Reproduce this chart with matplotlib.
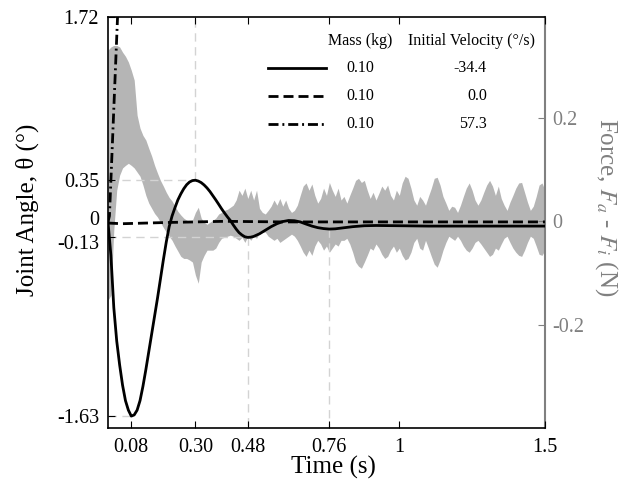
import numpy as np
import matplotlib
matplotlib.use("Agg")
import matplotlib.pyplot as plt
from matplotlib.lines import Line2D
from matplotlib.transforms import ScaledTranslation

plt.rcParams['font.family'] = ['Liberation Serif', 'DejaVu Serif']
plt.rcParams['mathtext.fontset'] = 'stix'

# joint angle traces (deg)
t_neg = [0.0, 0.01, 0.02, 0.03, 0.04, 0.05, 0.06, 0.07, 0.08, 0.09,
         0.10, 0.11, 0.12, 0.13, 0.14, 0.15, 0.16, 0.17, 0.18, 0.19,
         0.20, 0.21, 0.22, 0.23, 0.24, 0.25, 0.26, 0.27, 0.28, 0.29,
         0.30, 0.31, 0.32, 0.33, 0.34, 0.35, 0.36, 0.37, 0.38, 0.39,
         0.40, 0.41, 0.42, 0.43, 0.44, 0.45, 0.46, 0.47, 0.48, 0.49,
         0.50, 0.52, 0.54, 0.56, 0.58, 0.60, 0.62, 0.64, 0.66, 0.68,
         0.70, 0.72, 0.74, 0.76, 0.78, 0.80, 0.84, 0.88, 0.92, 1.0,
         1.1, 1.5]
theta_neg = [0.0, -0.28, -0.72, -1.0, -1.2, -1.37, -1.5, -1.58, -1.63, -1.62,
             -1.58, -1.50, -1.38, -1.24, -1.09, -0.94, -0.79, -0.64, -0.48, -0.32,
             -0.17, -0.04, 0.05, 0.12, 0.185, 0.235, 0.278, 0.312, 0.335, 0.347,
             0.35, 0.343, 0.33, 0.31, 0.285, 0.255, 0.22, 0.185, 0.148, 0.11,
             0.075, 0.042, 0.012, -0.025, -0.06, -0.09, -0.11, -0.125, -0.13, -0.128,
             -0.122, -0.10, -0.07, -0.04, -0.015, 0.003, 0.012, 0.01, 0.0, -0.018,
             -0.035, -0.048, -0.056, -0.06, -0.058, -0.052, -0.04, -0.032, -0.03, -0.032,
             -0.035, -0.035]

t_zero = [0.0, 0.05, 0.2, 0.4, 0.6, 1.0, 1.5]
theta_zero = [-0.01, -0.015, -0.005, 0.005, 0.0, 0.0, 0.0]

t_pos = [0.0, 0.005, 0.01, 0.02, 0.03, 0.035, 0.04]
theta_pos = [0.0, 0.05, 0.35, 0.95, 1.55, 1.85, 2.15]

mass = ['0.10', '0.10', '0.10']
velocity = ['-34.4', '0.0', '57.3']

# force difference envelope (N), sampled every 0.01 s
t_force = np.round(np.arange(0, 1.505, 0.01), 2)
force_hi = [0.331, 0.337, 0.340, 0.340, 0.337, 0.327, 0.319, 0.308, 0.292, 0.273,
            0.205, 0.180, 0.166, 0.157, 0.141, 0.126, 0.108, 0.093, 0.079, 0.068,
            0.056, 0.046, 0.039, 0.029, 0.019, 0.012, 0.006, 0.002, 0.000, 0.002,
            0.017, 0.027, 0.006, -0.002, -0.006, -0.002, 0.002, 0.006, 0.014, 0.017,
            0.021, 0.023, 0.027, 0.031, 0.041, 0.060, 0.050, 0.064, 0.044, 0.060,
            0.041, 0.060, 0.025, 0.017, 0.014, 0.021, 0.029, 0.041, 0.031, 0.044,
            0.029, 0.041, 0.025, 0.017, 0.021, 0.031, 0.050, 0.068, 0.074, 0.060,
            0.072, 0.050, 0.035, 0.044, 0.064, 0.050, 0.075, 0.060, 0.048, 0.064,
            0.041, 0.048, 0.035, 0.050, 0.064, 0.079, 0.083, 0.075, 0.079, 0.060,
            0.044, 0.056, 0.041, 0.054, 0.068, 0.060, 0.070, 0.050, 0.041, 0.060,
            0.050, 0.074, 0.087, 0.083, 0.064, 0.041, 0.031, 0.048, 0.041, 0.031,
            0.048, 0.064, 0.083, 0.085, 0.070, 0.048, 0.035, 0.021, 0.029, 0.027,
            0.017, 0.031, 0.048, 0.064, 0.074, 0.060, 0.041, 0.031, 0.041, 0.056,
            0.070, 0.079, 0.068, 0.050, 0.068, 0.044, 0.031, 0.021, 0.037, 0.050,
            0.064, 0.074, 0.075, 0.056, 0.037, 0.021, 0.029, 0.048, 0.070, 0.074,
            0.060]
force_lo = [-0.153, -0.143, -0.017, 0.060, 0.089, 0.103, 0.108, 0.112, 0.108, 0.103,
            0.095, 0.087, 0.070, 0.050, 0.035, 0.025, 0.015, 0.008, -0.002, -0.012,
            -0.021, -0.029, -0.037, -0.048, -0.058, -0.068, -0.072, -0.072, -0.075, -0.079,
            -0.104, -0.120, -0.079, -0.066, -0.056, -0.056, -0.056, -0.052, -0.041, -0.033,
            -0.031, -0.029, -0.027, -0.029, -0.033, -0.037, -0.031, -0.041, -0.029, -0.037,
            -0.029, -0.033, -0.023, -0.021, -0.021, -0.029, -0.033, -0.037, -0.033, -0.041,
            -0.037, -0.033, -0.029, -0.025, -0.029, -0.037, -0.048, -0.060, -0.068, -0.056,
            -0.066, -0.048, -0.037, -0.044, -0.056, -0.048, -0.060, -0.052, -0.044, -0.048,
            -0.037, -0.037, -0.033, -0.044, -0.060, -0.079, -0.087, -0.091, -0.079, -0.066,
            -0.052, -0.056, -0.044, -0.052, -0.064, -0.072, -0.068, -0.056, -0.048, -0.060,
            -0.052, -0.066, -0.075, -0.072, -0.060, -0.041, -0.033, -0.052, -0.056, -0.037,
            -0.052, -0.068, -0.083, -0.089, -0.075, -0.056, -0.041, -0.029, -0.033, -0.037,
            -0.029, -0.037, -0.048, -0.056, -0.060, -0.052, -0.041, -0.037, -0.044, -0.052,
            -0.060, -0.068, -0.064, -0.052, -0.056, -0.044, -0.033, -0.029, -0.041, -0.052,
            -0.060, -0.066, -0.068, -0.056, -0.041, -0.029, -0.033, -0.048, -0.064, -0.066,
            -0.056]

xticks = [0.08, 0.30, 0.48, 0.76, 1, 1.5]
xticklabels = ['0.08', '0.30', '0.48', '0.76', '1', '1.5']
yticks = [1.72, 0.35, 0, -0.13, -1.63]
yticklabels = ['1.72', '0.35', '0', '-0.13', '-1.63']

fig = plt.figure(figsize=(6.26, 4.87), dpi=100)
ax = fig.add_axes([0.1725, 0.1211, 0.698, 0.844])
ax2 = ax.twinx()
ax.set_zorder(ax2.get_zorder() + 1)
ax.patch.set_visible(False)

gray = '#808080'
ax2.fill_between(t_force, force_lo, force_hi, color='#b5b5b5', lw=0)
ax2.set_ylim(-0.40, 0.395)
ax2.set_yticks([0.2, 0, -0.2])
ax2.set_yticklabels(['0.2', '0', '-0.2'])
ax2.tick_params(axis='y', direction='in', length=5, colors=gray, labelsize=14.5, pad=5)
for s in ['left', 'top', 'bottom']:
    ax2.spines[s].set_visible(False)
ax2.spines['right'].set_color(gray)
ax2.spines['right'].set_linewidth(1.5)
ax2.set_ylabel('Force, $F_a$ - $F_i$ (N)', fontsize=18, color=gray, rotation=270,
               ha='center', va='center')
ax2.yaxis.set_label_coords(1.1396, 0.538)

# dashed guide lines at the peaks
ref = dict(color='#d3d3d3', lw=1, ls=(0, (6, 4)), zorder=0)
ax.plot([0.30, 0.30], [0.35, 1.72], **ref)
ax.plot([0, 0.30], [0.35, 0.35], **ref)
ax.plot([0, 0.48], [-0.13, -0.13], **ref)
ax.plot([0.48, 0.48], [-0.13, -1.73], **ref)
ax.plot([0.76, 0.76], [-0.06, -1.73], **ref)
ax.plot([0, 0.08], [-1.63, -1.63], **ref)

dash_styles = [None, (3.6, 1.8), (3.6, 1.4, 0.7, 1.4)]
series = [(t_neg, theta_neg), (t_zero, theta_zero), (t_pos, theta_pos)]
for (tt, th), d in zip(series, dash_styles):
    if d is None:
        ax.plot(tt, th, color='black', lw=2)
    else:
        ax.plot(tt, th, color='black', lw=2, dashes=d)

ax.set_xlim(0, 1.5)
ax.set_ylim(-1.73, 1.72)
ax.set_xticks(xticks)
ax.set_xticklabels(xticklabels)
ax.set_yticks(yticks)
ax.set_yticklabels(yticklabels)
ax.tick_params(axis='x', direction='in', length=5, top=True, labelsize=14.5, pad=7)
ax.tick_params(axis='y', direction='in', length=5, right=False, labelsize=14.5, pad=6.5)
ax.spines['right'].set_visible(False)
for s in ['left', 'top', 'bottom']:
    ax.spines[s].set_linewidth(1.2)

# nudge the two crowded labels apart a little, like the original
ylabs = ax.get_yticklabels()
ylabs[2].set_transform(ylabs[2].get_transform() + ScaledTranslation(0, 3 / 72, fig.dpi_scale_trans))
ylabs[3].set_transform(ylabs[3].get_transform() + ScaledTranslation(0, -3 / 72, fig.dpi_scale_trans))

ax.set_xlabel('Time (s)', fontsize=18, va='center')
ax.xaxis.set_label_coords(0.517, -0.095)
ax.set_ylabel('Joint Angle, θ (°)', fontsize=18, va='center')
ax.yaxis.set_label_coords(-0.185, 0.530)

# table-style legend
rows_y = [0.876, 0.808, 0.740]
ax.text(0.577, 0.942, 'Mass (kg)', transform=ax.transAxes, ha='center', va='center', fontsize=11.5)
ax.text(0.831, 0.942, 'Initial Velocity (°/s)', transform=ax.transAxes, ha='center', va='center', fontsize=11.5)
for d, y, m, v in zip(dash_styles, rows_y, mass, velocity):
    h = Line2D([0.366, 0.499], [y, y], transform=ax.transAxes, color='black', lw=2)
    if d is not None:
        h.set_dashes(d)
    ax.add_line(h)
    ax.text(0.577, y, m, transform=ax.transAxes, ha='center', va='center', fontsize=11.5)
    ax.text(0.867, y, v, transform=ax.transAxes, ha='right', va='center', fontsize=11.5)

fig.savefig('out.png', dpi=100)
